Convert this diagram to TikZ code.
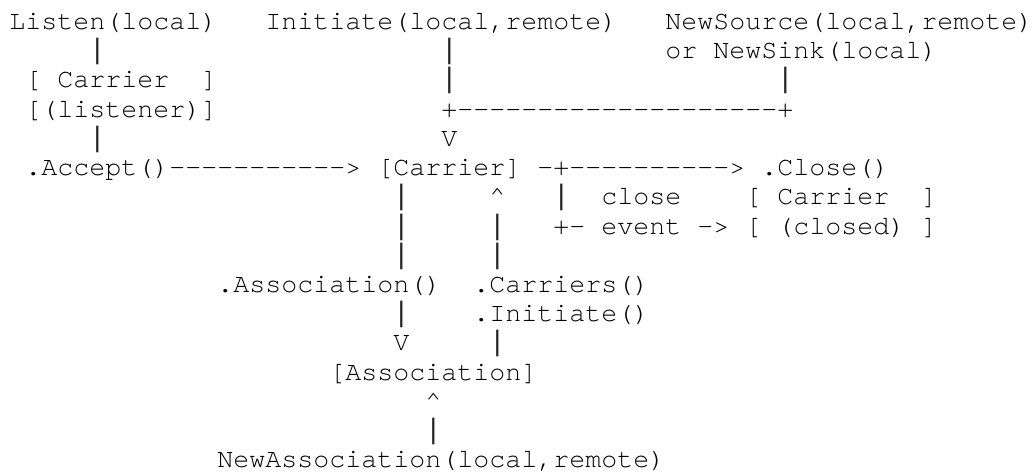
\documentclass[tikz,border=0pt]{standalone}
\usepackage{fontspec}
\setmonofont{TeX Gyre Cursor}
\newfontfamily\barfont{DejaVu Sans Mono}
\tikzset{tok/.style={anchor=base west, inner sep=0pt, outer sep=0pt, text=black,
  font=\ttfamily\fontsize{20pt}{24pt}\selectfont},
  bar/.style={tok, text=black!85, font=\barfont\fontsize{20pt}{24pt}\selectfont}}
% #1 name, #2 column, #3 line, #4 text
\newcommand\putok[4]{\node[tok] (#1) at ({7.05pt+#2*12pt},{-22.1pt-#3*21.92pt}) {#4};}
% vertical bar glyph, #1 name, #2 column, #3 line
\newcommand\putbar[3]{\node[bar] (#1) at ({7.05pt+#2*12pt},{-22.1pt-#3*21.92pt}) {|};}
\begin{document}
\begin{tikzpicture}
\fill[white] (0,0) rectangle (777pt,-354.75pt);
\useasboundingbox (0,0) rectangle (777pt,-354.75pt);
% line 0
\putok{listen}{0}{0}{Listen(local)}
\putok{initiate}{16}{0}{Initiate(local,remote)}
\putok{newsource}{41}{0}{NewSource(local,remote)}
% line 1
\putbar{p1a}{5}{1}
\putbar{p1b}{27}{1}
\putok{newsink}{41}{1}{or NewSink(local)}
% line 2
\putok{lcbl}{1}{2}{[}
\putok{lcarrier}{3}{2}{Carrier}
\putok{lcbr}{12}{2}{]}
\putbar{p2b}{27}{2}
\putbar{p2c}{48}{2}
% line 3
\putok{listener}{1}{3}{[(listener)]}
\putok{join}{27}{3}{+--------------------+}
% line 4
\putbar{p4a}{5}{4}
\putok{v4}{27}{4}{V}
% line 5
\putok{accept}{1}{5}{.Accept()----------->}
\putok{carrier}{23}{5}{[Carrier]}
\putok{toclose}{33}{5}{-+---------->}
\putok{close}{47}{5}{.Close()}
% line 6
\putbar{p6a}{24}{6}
\putok{up6}{30}{6}{\textasciicircum}
\putbar{p6c}{34}{6}
\putok{closeword}{37}{6}{close}
\putok{ccbl}{46}{6}{[}
\putok{ccarrier}{48}{6}{Carrier}
\putok{ccbr}{57}{6}{]}
% line 7
\putbar{p7a}{24}{7}
\putbar{p7b}{30}{7}
\putok{corner7}{34}{7}{+-}
\putok{eventword}{37}{7}{event}
\putok{arrow7}{43}{7}{->}
\putok{clbl}{46}{7}{[}
\putok{closed}{48}{7}{(closed)}
\putok{clbr}{57}{7}{]}
% line 8
\putbar{p8a}{24}{8}
\putbar{p8b}{30}{8}
% line 9
\putok{assocm}{13}{9}{.Association()}
\putok{carriers}{29}{9}{.Carriers()}
% line 10
\putbar{p10a}{24}{10}
\putok{initm}{29}{10}{.Initiate()}
% line 11
\putok{v11}{24}{11}{V}
\putbar{p11b}{30}{11}
% line 12
\putok{association}{20}{12}{[Association]}
% line 13
\putok{up13}{26}{13}{\textasciicircum}
% line 14
\putbar{p14}{26}{14}
% line 15
\putok{newassoc}{13}{15}{NewAssociation(local,remote)}
\end{tikzpicture}
\end{document}
